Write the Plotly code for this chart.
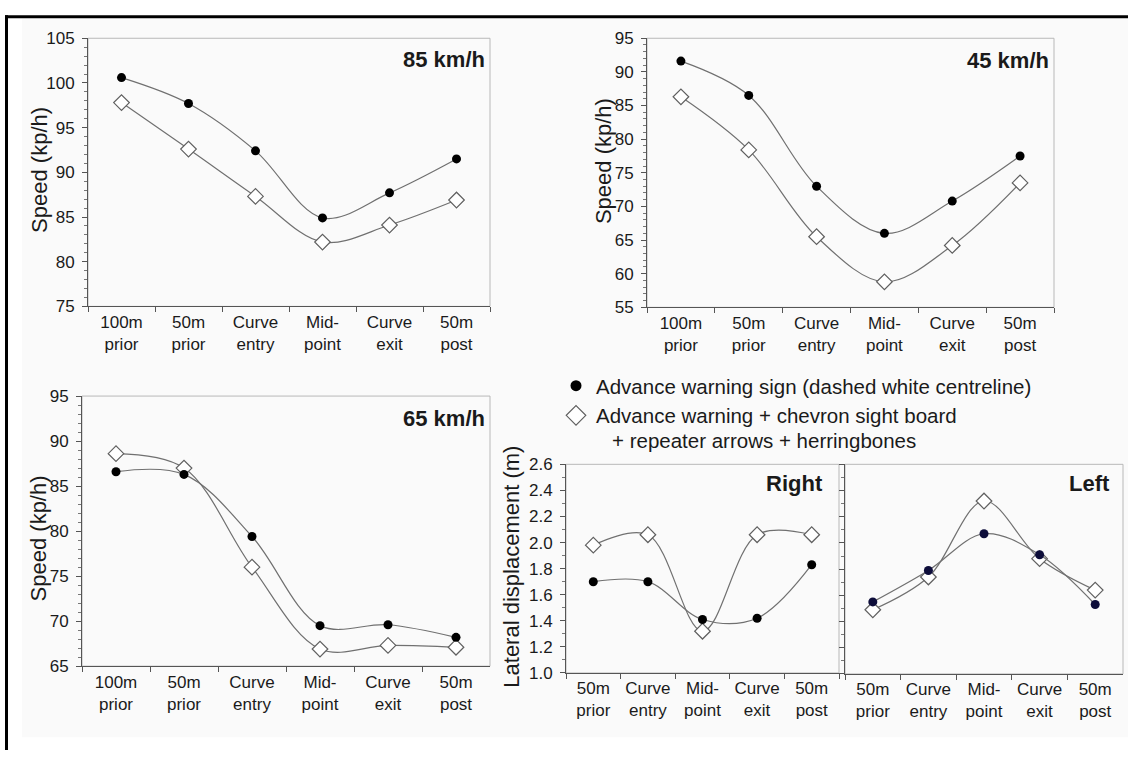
import plotly.graph_objects as go

# Survey locations along the curve
cats6 = ["100m<br>prior", "50m<br>prior", "Curve<br>entry", "Mid-<br>point", "Curve<br>exit", "50m<br>post"]
cats5 = ["50m<br>prior", "Curve<br>entry", "Mid-<br>point", "Curve<br>exit", "50m<br>post"]

# Mean speeds (kp/h) at each location, per curve advisory speed
speed85_sign = [100.6, 97.7, 92.4, 84.9, 87.7, 91.5]
speed85_chev = [97.8, 92.6, 87.3, 82.2, 84.1, 86.9]
speed45_sign = [91.6, 86.5, 73.0, 66.0, 70.8, 77.5]
speed45_chev = [86.3, 78.4, 65.5, 58.8, 64.2, 73.5]
speed65_sign = [86.6, 86.3, 79.4, 69.5, 69.6, 68.2]
speed65_chev = [88.6, 87.0, 76.0, 66.9, 67.3, 67.1]

# Lateral displacement (m) on right- and left-hand curves
right_sign = [1.70, 1.70, 1.41, 1.42, 1.83]
right_chev = [1.98, 2.06, 1.32, 2.06, 2.06]
left_sign = [1.55, 1.79, 2.07, 1.91, 1.53]
left_chev = [1.49, 1.74, 2.32, 1.88, 1.64]

name_sign = "Advance warning sign (dashed white centreline)"
name_chev = "Advance warning + chevron sight board"
name_chev_2 = "+ repeater arrows + herringbones"

W, H = 1128, 760
FONT = "Liberation Sans, Arial, sans-serif"
TXT = "#1a1a1a"
LINE = "#707070"
LEG_SIZE = 20.5


def px_x(p):
    return p / W


def px_y(p):
    return 1 - p / H


fig = go.Figure()


def add_pair(xa, ya, cats, sign, chev, sign_color="black"):
    fig.add_trace(go.Scatter(
        x=cats, y=chev, xaxis=xa, yaxis=ya, mode="lines+markers",
        line=dict(color=LINE, width=1.2, shape="spline", smoothing=1),
        marker=dict(symbol="diamond", size=12, color="white",
                    line=dict(color="#606060", width=1.2)),
        showlegend=False, hoverinfo="x+y"))
    fig.add_trace(go.Scatter(
        x=cats, y=sign, xaxis=xa, yaxis=ya, mode="lines+markers",
        line=dict(color=LINE, width=1.2, shape="spline", smoothing=1),
        marker=dict(symbol="circle", size=9, color=sign_color,
                    line=dict(color=sign_color, width=0)),
        showlegend=False, hoverinfo="x+y"))


add_pair("x", "y", cats6, speed85_sign, speed85_chev)
add_pair("x2", "y2", cats6, speed45_sign, speed45_chev)
add_pair("x3", "y3", cats6, speed65_sign, speed65_chev)
add_pair("x4", "y4", cats5, right_sign, right_chev)
add_pair("x5", "y5", cats5, left_sign, left_chev, sign_color="#0d0d3a")

# Legend entries (markers only)
fig.add_trace(go.Scatter(x=[None], y=[None], mode="markers", name=name_sign,
                         marker=dict(symbol="circle", size=11, color="black"),
                         xaxis="x4", yaxis="y4"))
fig.add_trace(go.Scatter(x=[None], y=[None], mode="markers", name=name_chev,
                         marker=dict(symbol="diamond", size=15, color="white",
                                     line=dict(color="#606060", width=1.2)),
                         xaxis="x4", yaxis="y4"))

panels = {
    # key: (x0, x1, ytop, ybottom) in pixels
    "": (88, 490, 30, 305),
    "2": (647, 1054, 30, 306),
    "3": (82, 490, 397, 674),
    "4": (566, 839, 467, 681),
    "5": (845, 1123, 467, 682),
}
yranges = {"": [75, 105], "2": [55, 95], "3": [65, 95], "4": [1.0, 2.6], "5": [1.0, 2.6]}
ydticks = {"": 5, "2": 5, "3": 5, "4": 0.2, "5": 0.2}
yminor = {"": 1, "2": 1, "3": 1, "4": 0.1, "5": 0.1}

layout = dict(
    width=W, height=H, margin=dict(l=0, r=0, t=0, b=0),
    paper_bgcolor="white", plot_bgcolor="white",
    font=dict(family=FONT, size=17, color=TXT),
    showlegend=True,
    legend=dict(x=px_x(556), y=px_y(366), xanchor="left", yanchor="top",
                font=dict(size=LEG_SIZE, color=TXT), bgcolor="rgba(0,0,0,0)",
                itemwidth=30, tracegroupgap=0, borderwidth=0),
)

shapes = [
    # light background panel
    dict(type="rect", xref="paper", yref="paper", x0=px_x(22), x1=1, y0=px_y(747), y1=px_y(10),
         line=dict(width=0), fillcolor="#fafafa", layer="below"),
]

for k, (x0, x1, yt, yb) in panels.items():
    xa = "xaxis" + k
    ya = "yaxis" + k
    layout[xa] = dict(
        domain=[px_x(x0), px_x(x1)], anchor="y" + k, type="category",
        range=[-0.5, (5 if k in ("", "2", "3") else 4) + 0.5],
        showline=True, linecolor="#555555", linewidth=1,
        ticks="outside", tickson="boundaries", ticklen=5, tickcolor="#555555",
        showgrid=False, zeroline=False, fixedrange=True,
        tickfont=dict(size=17, color=TXT),
    )
    layout[ya] = dict(
        domain=[px_y(yb), px_y(yt)], anchor="x" + k, range=yranges[k],
        dtick=ydticks[k], tick0=0, showline=True, linecolor="#555555", linewidth=1,
        ticks="outside", ticklen=5, tickcolor="#555555",
        minor=dict(ticks="outside", dtick=yminor[k], ticklen=3, tickcolor="#777777"),
        showgrid=False, zeroline=False, fixedrange=True,
        tickfont=dict(size=17, color=TXT), ticklabelstandoff=4,
        tickformat=".1f" if k in ("4", "5") else "d",
        showticklabels=(k != "5"),
    )
    # light frame around each plotting area
    shapes.append(dict(type="rect", xref="x" + k + " domain", yref="y" + k + " domain",
                       x0=0, x1=1, y0=0, y1=1, line=dict(color="#b8b8b8", width=1),
                       layer="below"))

shapes += [
    dict(type="line", xref="paper", yref="paper", x0=px_x(6.5), x1=px_x(6.5), y0=0, y1=px_y(6.5),
         line=dict(color="black", width=3)),
    dict(type="line", xref="paper", yref="paper", x0=px_x(5), x1=1, y0=px_y(8), y1=px_y(8),
         line=dict(color="black", width=3)),
]
layout["shapes"] = shapes


def label(text, x, y, size=22, bold=True, anchor="right", angle=0):
    return dict(text=f"<b>{text}</b>" if bold else text, x=px_x(x), y=px_y(y),
                xref="paper", yref="paper", xanchor=anchor, yanchor="middle",
                showarrow=False, textangle=angle,
                font=dict(family=FONT, size=size, color=TXT))


layout["annotations"] = [
    label("85 km/h", 487, 52),
    label("45 km/h", 1051, 53),
    label("65 km/h", 487, 420),
    label("Right", 825, 487),
    label("Left", 1112, 487),
    label("Speed (kp/h)", 40, 165, size=22, bold=False, anchor="center", angle=-90),
    label("Speed (kp/h)", 603, 156, size=22, bold=False, anchor="center", angle=-90),
    label("Speed (kp/h)", 38, 543, size=22, bold=False, anchor="center", angle=-90),
    label("Lateral displacement (m)", 512, 572, size=22, bold=False, anchor="center", angle=-90),
    label(name_chev_2, 610, 443, size=LEG_SIZE, bold=False, anchor="left"),
]

fig.update_layout(**layout)
fig.write_html("out.html")
